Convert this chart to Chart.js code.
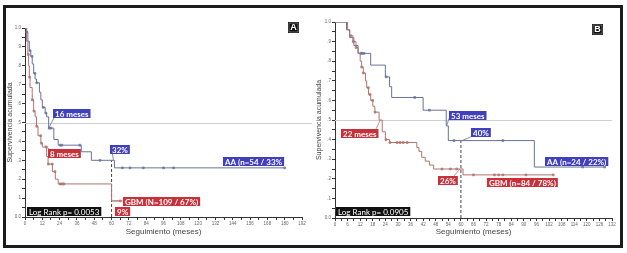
<!DOCTYPE html>
<html>
<head>
<meta charset="utf-8">
<script src="https://cdn.jsdelivr.net/npm/chart.js@4.4.1/dist/chart.umd.min.js"></script>
<style>
body { margin: 0; background: #fff; }
#frame { position: absolute; left: 3px; top: 5px; width: 614px; height: 237px; border: 3px solid #1b1b1b; }
canvas { position: absolute; top: 0; }
</style>
</head>
<body>
<div id="frame"></div>
<canvas id="chartA" width="316" height="253" style="left:0px"></canvas>
<canvas id="chartB" width="317" height="253" style="left:310px"></canvas>
<script>
// Panel A: anaplasic astrocytoma (AA) vs GBM, months / cumulative survival
const aaA_t = [0, 1, 2, 3, 4, 5, 6, 7, 8, 10, 11, 12, 14, 15, 16.4, 20, 23, 39, 46, 62, 180];
const aaA_s = [1.0, 0.98, 0.93, 0.88, 0.85, 0.81, 0.76, 0.73, 0.71, 0.66, 0.62, 0.58, 0.55, 0.53, 0.47, 0.41, 0.38, 0.345, 0.30, 0.26, 0.26];
const aaA_cens = [1.2, 3.5, 4.9, 6.9, 8.1, 12.7, 14.5, 16.8, 18, 24.5, 25.5, 38, 52, 67.5, 72.8, 82, 96, 103, 180];
const gbmA_t = [0, 1, 2, 2.5, 3, 3.5, 5, 6, 7, 8, 9, 11, 12, 15, 16, 19, 21, 23, 60, 66];
const gbmA_s = [1.0, 0.93, 0.86, 0.80, 0.74, 0.685, 0.62, 0.56, 0.53, 0.48, 0.43, 0.39, 0.37, 0.32, 0.28, 0.24, 0.20, 0.175, 0.085, 0.085];
const gbmA_cens = [0.8, 2.3, 3.2, 5.1, 6.2, 8.1, 10.9, 11.5, 14.8, 16.2, 18.9, 20.8, 24.3, 25.3, 26.2, 27, 66];
const xTicksA = [0, 12, 24, 36, 48, 60, 72, 84, 96, 108, 120, 132, 144, 156, 168, 180, 192];

// Panel B
const aaB_t = [0, 5.5, 7, 9, 11, 17, 24, 26, 27, 42, 53, 54, 95, 128.5];
const aaB_s = [1.0, 0.96, 0.92, 0.88, 0.84, 0.78, 0.72, 0.67, 0.615, 0.55, 0.47, 0.395, 0.26, 0.26];
const aaB_cens = [12.3, 13, 13.8, 24.4, 38, 45, 56.7, 80, 118, 128.5];
const gbmB_t = [0, 6, 7, 8.5, 10, 11, 12, 12.7, 13.5, 14.5, 15.1, 16, 17, 18, 19, 21, 22.5, 24, 26, 39, 40, 41.3, 43, 45, 47, 61, 104];
const gbmB_s = [1.0, 0.96, 0.93, 0.90, 0.87, 0.84, 0.80, 0.77, 0.74, 0.70, 0.665, 0.63, 0.60, 0.57, 0.54, 0.50, 0.44, 0.40, 0.385, 0.36, 0.34, 0.31, 0.29, 0.27, 0.25, 0.22, 0.22];
const gbmB_cens = [7.5, 8.7, 10, 12.7, 13.5, 15.9, 16.7, 17.9, 19.1, 24.3, 26.2, 29.6, 31, 32.5, 34.4, 51, 55, 58, 66, 76, 78, 80, 91, 104];
const xTicksB = [0, 6, 12, 18, 24, 30, 36, 42, 48, 54, 60, 66, 72, 78, 84, 90, 96, 102, 108, 114, 120, 126, 132];

const yTicks = [0, 0.1, 0.2, 0.3, 0.4, 0.5, 0.6, 0.7, 0.8, 0.9, 1.0];
const yTickLabels = ['0.0', '.1', '.2', '.3', '.4', '.5', '.6', '.7', '.8', '.9', '1.0'];
const refMonth = 60;

const BLUE_LINE = '#6a7199', RED_LINE = '#b0736d';
const BLUE_BOX = '#3f3fbf', RED_BOX = '#c9303a', BLACK_BOX = '#111';

function survAt(ts, ss, t) {
    let v = ss[0];
    for (let i = 0; i < ts.length; i++) {
        if (ts[i] <= t) v = ss[i];
    }
    return v;
}

function curve(ts, ss) {
    return ts.map((t, i) => ({x: t, y: ss[i]}));
}

function marks(ts, ss, cens) {
    return cens.map(t => ({x: t, y: survAt(ts, ss, t)}));
}

function withMinor(arr) {
    let out = [];
    for (let i = 0; i < arr.length; i++) {
        out.push({value: arr[i]});
        if (i < arr.length - 1) out.push({value: (arr[i] + arr[i + 1]) / 2});
    }
    return out;
}

function makePanel(id, p) {
    const annot = {
        id: 'annot' + id,
        beforeDatasetsDraw(chart) {
            const ctx = chart.ctx, a = chart.chartArea;
            const y5 = chart.scales.y.getPixelForValue(0.5);
            ctx.save();
            ctx.strokeStyle = '#cfcfcf';
            ctx.lineWidth = 1;
            ctx.beginPath();
            ctx.moveTo(a.left, Math.round(y5) + 0.5);
            ctx.lineTo(a.right + p.refExtra, Math.round(y5) + 0.5);
            ctx.stroke();
            ctx.restore();
        },
        afterDatasetsDraw(chart) {
            const ctx = chart.ctx, xs = chart.scales.x, ys = chart.scales.y;
            ctx.save();
            p.pointers.forEach(l => {
                ctx.strokeStyle = l[4];
                ctx.lineWidth = 0.8;
                ctx.beginPath();
                ctx.moveTo(xs.getPixelForValue(l[0]), ys.getPixelForValue(l[1]));
                ctx.lineTo(xs.getPixelForValue(l[2]), ys.getPixelForValue(l[3]));
                ctx.stroke();
            });
            p.boxes.forEach(b => {
                ctx.font = (b.bold ? 'bold ' : '') + '8px Lato';
                const w = ctx.measureText(b.text).width + 4;
                const x = Math.round(xs.getPixelForValue(b.x));
                const y = Math.round(ys.getPixelForValue(b.y));
                ctx.fillStyle = b.bg;
                ctx.fillRect(x, y, w, 9);
                ctx.fillStyle = '#fff';
                ctx.textBaseline = 'middle';
                ctx.fillText(b.text, x + 2, y + 5);
            });
            // panel letter
            const lx = Math.round(xs.getPixelForValue(p.letter.x));
            const ly = Math.round(ys.getPixelForValue(p.letter.y));
            ctx.fillStyle = '#111';
            ctx.fillRect(lx, ly, 11, 11);
            ctx.strokeStyle = '#999';
            ctx.lineWidth = 0.6;
            ctx.strokeRect(lx + 1, ly + 1, 9, 9);
            ctx.fillStyle = '#fff';
            ctx.font = 'bold 9px "Liberation Sans"';
            ctx.textAlign = 'center';
            ctx.fillText(p.letter.text, lx + 5.5, ly + 6);
            ctx.restore();
        }
    };

    const dashTop = survAt(p.aa_t, p.aa_s, refMonth);

    new Chart(document.getElementById(id), {
        type: 'line',
        data: {
            datasets: [
                {data: curve(p.gbm_t, p.gbm_s), borderColor: RED_LINE, borderWidth: 1, stepped: 'before', pointRadius: 0},
                {data: curve(p.aa_t, p.aa_s), borderColor: BLUE_LINE, borderWidth: 1, stepped: 'before', pointRadius: 0},
                {data: marks(p.gbm_t, p.gbm_s, p.gbm_cens), showLine: false, pointStyle: 'rect', pointRadius: 1.3,
                    backgroundColor: '#dcb0ac', borderColor: '#a35a54', borderWidth: 0.6},
                {data: marks(p.aa_t, p.aa_s, p.aa_cens), showLine: false, pointStyle: 'rect', pointRadius: 1.3,
                    backgroundColor: '#b0b5d6', borderColor: '#555d94', borderWidth: 0.6},
                {data: [{x: refMonth, y: 0}, {x: refMonth, y: dashTop}], borderColor: '#444', borderWidth: 1,
                    borderDash: [3, 2], pointRadius: 0}
            ]
        },
        options: {
            responsive: false,
            animation: false,
            devicePixelRatio: 1,
            layout: {padding: p.pad},
            plugins: {legend: {display: false}, tooltip: {enabled: false}},
            scales: {
                x: {
                    type: 'linear',
                    min: p.xTicks[0],
                    max: p.xTicks[p.xTicks.length - 1],
                    afterBuildTicks: s => { s.ticks = withMinor(p.xTicks); },
                    afterFit: s => { s.height = p.xH; },
                    ticks: {
                        autoSkip: false, maxRotation: 0, padding: 1,
                        font: {size: 4.5, family: 'Liberation Sans'}, color: '#666',
                        callback: v => p.xTicks.includes(v) ? String(v) : ''
                    },
                    grid: {drawOnChartArea: false, tickLength: 3, color: '#333'},
                    border: {color: '#333', width: 1},
                    title: {display: true, text: 'Seguimiento (meses)', color: '#444',
                        font: {size: 8, family: 'Liberation Sans'}, padding: {top: 2, bottom: 2}}
                },
                y: {
                    min: 0, max: 1,
                    afterBuildTicks: s => { s.ticks = withMinor(yTicks); },
                    afterFit: s => { s.width = p.yW; },
                    ticks: {
                        autoSkip: false, padding: 1,
                        font: {size: 4.5, family: 'Liberation Sans'}, color: '#666',
                        callback: v => {
                            const i = yTicks.findIndex(t => Math.abs(t - v) < 1e-6);
                            return i >= 0 ? yTickLabels[i] : '';
                        }
                    },
                    grid: {drawOnChartArea: false, tickLength: 3, color: '#333'},
                    border: {color: '#333', width: 1},
                    title: {display: true, text: 'Supervivencia acumulada', color: '#444',
                        font: {size: 7, family: 'Liberation Sans'}, padding: {top: 2, bottom: 2}}
                }
            }
        },
        plugins: [annot]
    });
}

makePanel('chartA', {
    aa_t: aaA_t, aa_s: aaA_s, aa_cens: aaA_cens,
    gbm_t: gbmA_t, gbm_s: gbmA_s, gbm_cens: gbmA_cens,
    xTicks: xTicksA,
    pad: {left: 4, top: 28, right: 14, bottom: 14}, yW: 21, xH: 22, refExtra: 10,
    letter: {text: 'A', x: 182, y: 1.03},
    boxes: [
        {text: '16 meses', x: 19.4, y: 0.572, bg: BLUE_BOX, bold: true},
        {text: '8 meses', x: 15.9, y: 0.36, bg: RED_BOX, bold: true},
        {text: '32%', x: 59.2, y: 0.382, bg: BLUE_BOX, bold: true},
        {text: 'AA (n=54 / 33%', x: 137.2, y: 0.318, bg: BLUE_BOX, bold: true},
        {text: 'GBM (N=109 / 67%)', x: 68, y: 0.106, bg: RED_BOX, bold: true},
        {text: '9%', x: 62.4, y: 0.053, bg: RED_BOX, bold: true},
        {text: 'Log Rank p= 0.0053', x: 1.4, y: 0.053, bg: BLACK_BOX, bold: false}
    ],
    pointers: [
        [20.1, 0.525, 16.8, 0.475, BLUE_LINE],
        [16.6, 0.36, 13.5, 0.38, RED_LINE],
        [60.6, 0.334, 61.3, 0.30, BLUE_LINE],
        [68, 0.085, 61, 0.085, RED_LINE]
    ]
});

makePanel('chartB', {
    aa_t: aaB_t, aa_s: aaB_s, aa_cens: aaB_cens,
    gbm_t: gbmB_t, gbm_s: gbmB_s, gbm_cens: gbmB_cens,
    xTicks: xTicksB,
    pad: {left: 3, top: 22, right: 15, bottom: 14}, yW: 22, xH: 21, refExtra: 0,
    letter: {text: 'B', x: 122.6, y: 0.99},
    boxes: [
        {text: '53 meses', x: 54.4, y: 0.547, bg: BLUE_BOX, bold: true},
        {text: '22 meses', x: 2.9, y: 0.455, bg: RED_BOX, bold: true},
        {text: '40%', x: 64.9, y: 0.46, bg: BLUE_BOX, bold: true},
        {text: 'AA (n=24 / 22%)', x: 100.1, y: 0.312, bg: BLUE_BOX, bold: true},
        {text: '26%', x: 49.1, y: 0.215, bg: RED_BOX, bold: true},
        {text: 'GBM (n=84 / 78%)', x: 72.5, y: 0.204, bg: RED_BOX, bold: true},
        {text: 'Log Rank p= 0.0905', x: 0.5, y: 0.056, bg: BLACK_BOX, bold: false}
    ],
    pointers: [
        [54.4, 0.51, 53.2, 0.47, BLUE_LINE],
        [19.6, 0.455, 21.6, 0.5, RED_LINE],
        [64.9, 0.415, 60.6, 0.395, BLUE_LINE],
        [56.7, 0.215, 59.6, 0.25, RED_LINE]
    ]
});
</script>
</body>
</html>
